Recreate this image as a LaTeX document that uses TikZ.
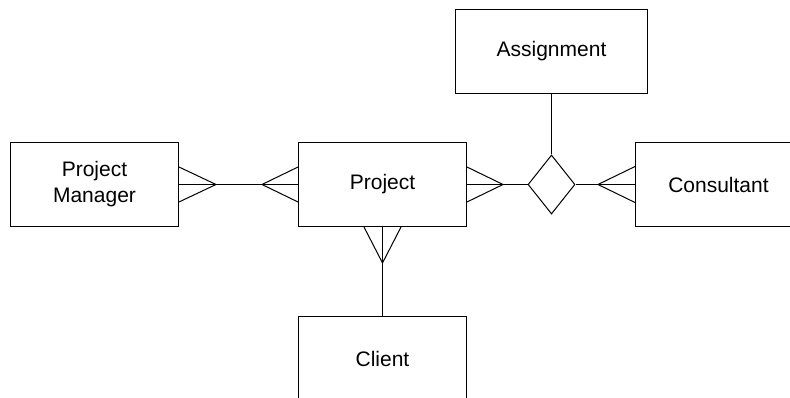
\documentclass[tikz,border=0pt]{standalone}
\usepackage{fontspec}
\setmainfont{Liberation Sans}
\usetikzlibrary{shapes.geometric}
\begin{document}
\begin{tikzpicture}[x=1pt,y=-1pt,line width=1pt,
  entity/.style={draw,rectangle,minimum width=168pt,minimum height=84pt,align=center,font=\fontsize{21}{26}\selectfont},
  relation/.style={draw,diamond,minimum width=47pt,minimum height=59pt,inner sep=0pt}]
\useasboundingbox (0,0) rectangle (790,398);
\clip (0,0) rectangle (790,398);
\node [entity] (pm) at (94.5,184.5) {Project\\Manager};
\node [entity] (proj) at (382.5,184.5) {Project};
\node [entity,minimum width=192pt] (asg) at (551.5,51.5) {Assignment};
\node [relation] (rel) at (551.5,184.5) {};
\node [entity,minimum width=166pt] (cons) at (718.5,184.5) {Consultant};
\node [entity] (client) at (382.5,358.5) {Client};
% crow's feet
\coordinate (pmfoot) at ([xshift=37pt]pm.east);
\coordinate (projfootw) at ([xshift=-36pt]proj.west);
\coordinate (projfoote) at ([xshift=36pt]proj.east);
\coordinate (projfoots) at ([yshift=-36pt]proj.south);
\coordinate (consfoot) at ([xshift=-37pt]cons.west);
\draw ([yshift=17.5pt]pm.east) -- (pmfoot) -- ([yshift=-17.5pt]pm.east);
\draw ([yshift=17.5pt]proj.west) -- (projfootw) -- ([yshift=-17.5pt]proj.west);
\draw ([yshift=17.5pt]proj.east) -- (projfoote) -- ([yshift=-17.5pt]proj.east);
\draw ([xshift=-18.5pt]proj.south) -- (projfoots) -- ([xshift=18.5pt]proj.south);
\draw ([yshift=18pt]cons.west) -- (consfoot) -- ([yshift=-18pt]cons.west);
% connectors
\draw (pm.east) -- (pmfoot) -- (projfootw) -- (proj.west);
\draw (proj.east) -- (projfoote) -- (rel.west);
\draw (cons.west) -- (consfoot) -- (rel.east);
\draw (asg.south) -- (rel.north);
\draw (proj.south) -- (projfoots) -- (client.north);
\end{tikzpicture}
\end{document}
